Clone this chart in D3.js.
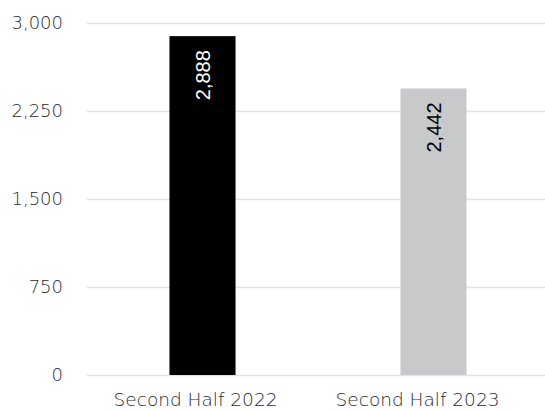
<!DOCTYPE html>
<html>
<head>
<meta charset="utf-8">
<script src="https://cdn.jsdelivr.net/npm/d3@7"></script>
<style>
  body { margin: 0; background: #fff; }
  svg { display: block; }
</style>
</head>
<body>
<svg id="chart"></svg>
<script>
const categories = ['Second Half 2022', 'Second Half 2023'];
const values = [2888, 2442];
const barColors = ['#000000', '#c8c9cb'];
const labelColors = ['#ffffff', '#000000'];
const yTicks = [0, 750, 1500, 2250, 3000];

const width = 545, height = 413;
const margin = {top: 23, right: -4, bottom: 38, left: 87};
// category labels sit slightly left of their bars in the original
const catLabelShift = [-7, -16];

const svg = d3.select('#chart')
    .attr('width', width)
    .attr('height', height);

const x = d3.scaleBand()
    .domain(categories)
    .range([margin.left, width - margin.right])
    .paddingInner(0.714)
    .paddingOuter(0.357);

const y = d3.scaleLinear()
    .domain([0, 3000])
    .range([height - margin.bottom, margin.top]);

// gridlines
svg.append('g')
    .selectAll('line')
    .data(yTicks)
    .join('line')
    .attr('x1', margin.left)
    .attr('x2', width)
    .attr('y1', d => Math.round(y(d)) + 0.5)
    .attr('y2', d => Math.round(y(d)) + 0.5)
    .attr('stroke', '#e5e3de')
    .attr('stroke-width', 1.5);

// y axis labels
const yAxis = svg.append('g')
    .attr('transform', `translate(${margin.left},0)`)
    .call(d3.axisLeft(y).tickValues(yTicks).tickFormat(d3.format(',')).tickSize(0).tickPadding(24));
yAxis.select('.domain').remove();
yAxis.selectAll('text')
    .attr('fill', '#2a2a2a')
    .style('font-family', '"DejaVu Sans", sans-serif')
    .style('font-weight', 200)
    .style('font-size', '18px');

// bars
svg.append('g')
    .selectAll('rect')
    .data(values)
    .join('rect')
    .attr('x', (d, i) => x(categories[i]))
    .attr('width', x.bandwidth())
    .attr('y', d => y(d))
    .attr('height', d => y(0) - y(d))
    .attr('fill', (d, i) => barColors[i]);

// value labels
svg.append('g')
    .selectAll('text')
    .data(values)
    .join('text')
    .attr('transform', (d, i) => `translate(${x(categories[i]) + x.bandwidth() / 2 + 7},${y(d) + 14}) rotate(-90)`)
    .attr('text-anchor', 'end')
    .attr('fill', (d, i) => labelColors[i])
    .style('font-family', '"Liberation Sans", Arial, sans-serif')
    .style('font-size', '20px')
    .text(d => d3.format(',')(d));

// x axis labels
const xAxis = svg.append('g')
    .attr('transform', `translate(0,${y(0)})`)
    .call(d3.axisBottom(x).tickSize(0).tickPadding(18));
xAxis.select('.domain').remove();
xAxis.selectAll('text')
    .attr('dx', (d, i) => catLabelShift[i])
    .attr('fill', '#2a2a2a')
    .style('font-family', '"DejaVu Sans", sans-serif')
    .style('font-weight', 200)
    .style('font-size', '18.5px');
</script>
</body>
</html>
